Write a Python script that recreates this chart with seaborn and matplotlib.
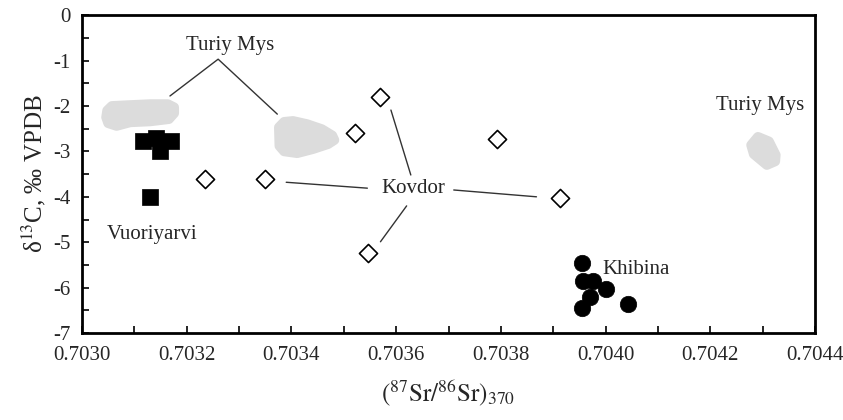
import numpy as np
import pandas as pd
import matplotlib
matplotlib.use('Agg')
import matplotlib.pyplot as plt
from matplotlib.patches import Polygon
from matplotlib.ticker import MultipleLocator
import seaborn as sns

# Vuoriyarvi (squares)
vuor_sr = [0.703117, 0.703141, 0.703170, 0.703149, 0.703130]
vuor_c = [-2.77, -2.71, -2.77, -2.99, -4.00]

# Kovdor (open diamonds)
kov_sr = [0.703235, 0.703350, 0.703521, 0.703570, 0.703546, 0.703793, 0.703913]
kov_c = [-3.61, -3.61, -2.60, -1.80, -5.24, -2.73, -4.03]

# Khibina (circles)
khib_sr = [0.703955, 0.703957, 0.703976, 0.704000, 0.703970, 0.703955, 0.704042]
khib_c = [-5.45, -5.85, -5.85, -6.02, -6.20, -6.45, -6.35]

# Turiy Mys fields (grey outlines)
turiy1_sr = [0.703048, 0.703057, 0.703092, 0.703130, 0.703164, 0.703176, 0.703176,
             0.703166, 0.703130, 0.703092, 0.703066, 0.703050, 0.703046]
turiy1_c = [-2.10, -2.00, -1.98, -1.96, -1.96, -2.03, -2.16,
            -2.29, -2.34, -2.36, -2.44, -2.38, -2.25]
turiy2_sr = [0.703376, 0.703386, 0.703403, 0.703430, 0.703458, 0.703478, 0.703482,
             0.703470, 0.703441, 0.703411, 0.703386, 0.703377]
turiy2_c = [-2.47, -2.35, -2.33, -2.40, -2.51, -2.65, -2.75,
            -2.84, -2.95, -3.04, -3.00, -2.88]
turiy3_sr = [0.704291, 0.704278, 0.704283, 0.704308, 0.704324, 0.704325, 0.704312]
turiy3_c = [-2.68, -2.86, -3.06, -3.30, -3.22, -3.08, -2.78]

sns.set_style('white')
plt.rcParams['font.family'] = ['Liberation Serif', 'DejaVu Serif']
plt.rcParams['mathtext.fontset'] = 'stix'

fig = plt.figure(figsize=(8.43, 4.2), dpi=100)
ax = fig.add_axes([0.0973, 0.207, 0.8695, 0.757])

for xs, ys in [(turiy1_sr, turiy1_c), (turiy2_sr, turiy2_c), (turiy3_sr, turiy3_c)]:
    ax.add_patch(Polygon(np.column_stack([xs, ys]), closed=True, facecolor='#dcdcdc',
                         edgecolor='#dcdcdc', linewidth=7, joinstyle='round', zorder=1))

sns.scatterplot(x=vuor_sr, y=vuor_c, marker='s', s=120, color='black',
                edgecolor='black', linewidth=0.5, ax=ax, zorder=3)
sns.scatterplot(x=kov_sr, y=kov_c, marker='D', s=85, facecolor='white',
                edgecolor='black', linewidth=1.2, ax=ax, zorder=3)
sns.scatterplot(x=khib_sr, y=khib_c, marker='o', s=140, color='black',
                edgecolor='black', linewidth=0.5, ax=ax, zorder=3)

line_kw = dict(color='#333333', lw=1.0)
# Turiy Mys leaders
ax.plot([0.703168, 0.703260, 0.703373], [-1.78, -0.97, -2.18], **line_kw)
# Kovdor leaders
ax.plot([0.703390, 0.703545], [-3.68, -3.81], **line_kw)
ax.plot([0.703710, 0.703868], [-3.85, -4.00], **line_kw)
ax.plot([0.703628, 0.703590], [-3.52, -2.09], **line_kw)
ax.plot([0.703620, 0.703570], [-4.20, -4.99], **line_kw)

ax.text(0.703283, -0.66, 'Turiy Mys', fontsize=15, ha='center', va='center')
ax.text(0.704295, -1.98, 'Turiy Mys', fontsize=15, ha='center', va='center')
ax.text(0.703633, -3.81, 'Kovdor', fontsize=15, ha='center', va='center')
ax.text(0.703134, -4.84, 'Vuoriyarvi', fontsize=15, ha='center', va='center')
ax.text(0.704058, -5.61, 'Khibina', fontsize=15, ha='center', va='center')

ax.set_xlim(0.7030, 0.7044)
ax.set_ylim(-7, 0)
ax.xaxis.set_major_locator(MultipleLocator(0.0002))
ax.xaxis.set_minor_locator(MultipleLocator(0.0001))
ax.yaxis.set_major_locator(MultipleLocator(1))
ax.yaxis.set_minor_locator(MultipleLocator(0.5))
ax.xaxis.set_major_formatter(matplotlib.ticker.FormatStrFormatter('%.4f'))
ax.yaxis.set_major_formatter(matplotlib.ticker.FormatStrFormatter('%d'))
ax.tick_params(which='both', direction='in', length=5, width=1.2, labelsize=15,
               color='black', bottom=True, left=True)
ax.tick_params(axis='x', which='major', pad=9)
ax.tick_params(axis='y', which='major', pad=8)
for sp in ax.spines.values():
    sp.set_linewidth(2)
    sp.set_color('black')

ax.set_xlabel(r'$(^{87}\mathrm{Sr}/^{86}\mathrm{Sr})_{370}$', fontsize=18, labelpad=10)
ax.set_ylabel('δ$^{13}$C, ‰ VPDB', fontsize=18, labelpad=4)

fig.savefig('out.png', dpi=100)
